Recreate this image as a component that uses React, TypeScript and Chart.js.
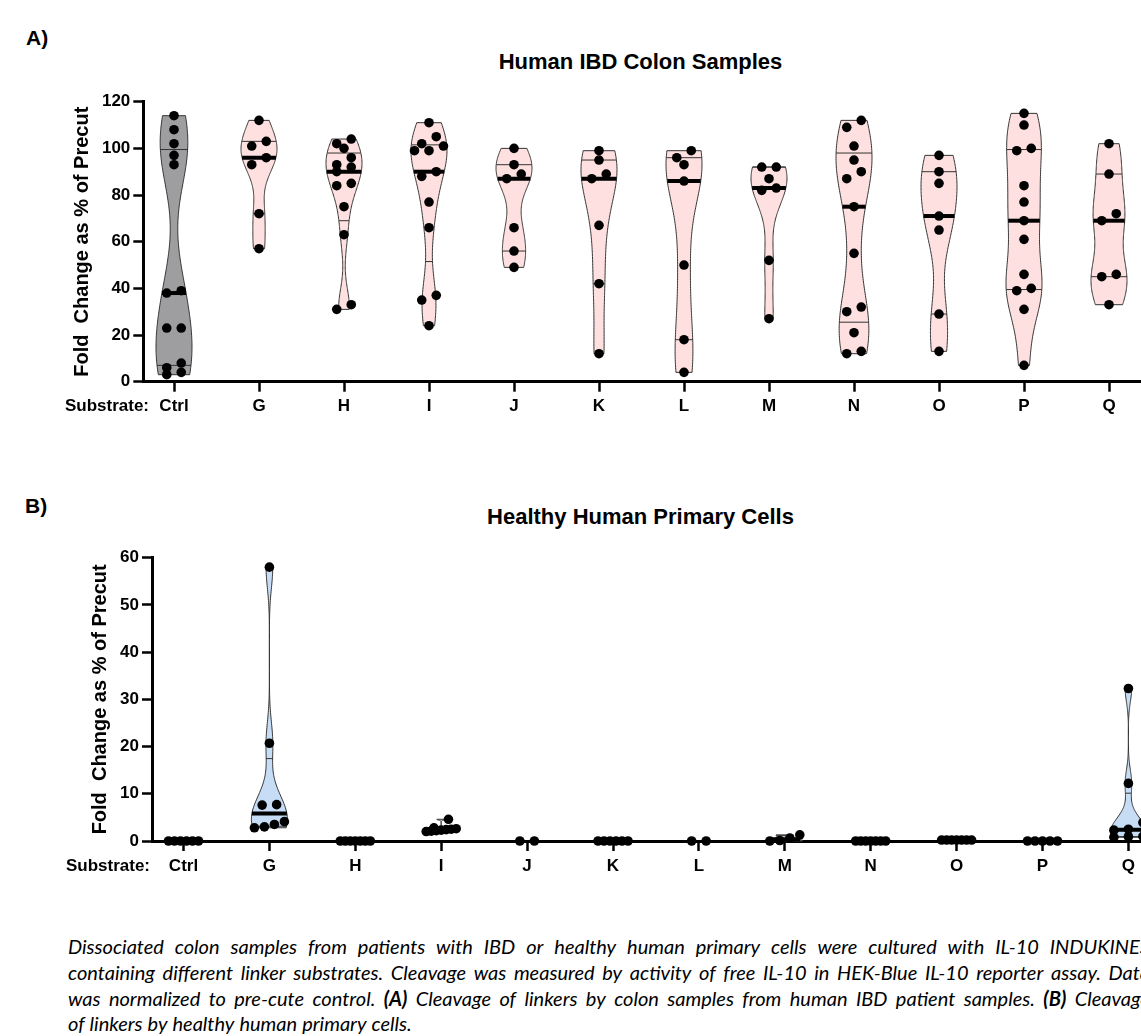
import React, { useEffect, useRef } from "react";
import { Chart, registerables } from "chart.js";

Chart.register(...registerables);

const FONT = "'Liberation Sans', Arial, Helvetica, sans-serif";

const categories = ["Ctrl", "G", "H", "I", "J", "K", "L", "M", "N", "O", "P", "Q"];

// Panel A: Human IBD colon samples (fold change as % of precut)
const ibdCtrl = [114, 108, 102, 97, 93, 39, 38, 23, 23, 8, 6, 4, 3];
const ibdG = [112, 103, 101, 96, 93, 72, 57];
const ibdH = [104, 102, 100, 96, 93, 92, 90, 85, 84, 75, 63, 33, 31];
const ibdI = [111, 105, 102, 101, 99, 99, 90, 88, 77, 66, 37, 35, 24];
const ibdJ = [100, 93, 89, 87, 66, 56, 49];
const ibdK = [99, 95, 89, 87, 67, 42, 12];
const ibdL = [99, 96, 93, 86, 50, 18, 4];
const ibdM = [92, 92, 87, 83, 82, 52, 27];
const ibdN = [112, 109, 101, 95, 90, 87, 75, 55, 32, 30, 21, 13, 12];
const ibdO = [97, 90, 85, 71, 65, 29, 13];
const ibdP = [115, 110, 100, 99, 84, 77, 69, 61, 46, 40, 39, 31, 7];
const ibdQ = [102, 89, 72, 69, 46, 45, 33];

// Panel B: Healthy human primary cells
const hpcCtrl = [0, 0, 0, 0, 0, 0];
const hpcG = [58, 20.7, 7.7, 7.6, 4.1, 3.5, 3.0, 2.8];
const hpcH = [0, 0, 0, 0, 0, 0, 0];
const hpcI = [4.6, 2.8, 2.6, 2.5, 2.4, 2.3, 2.2, 2.1, 2.0];
const hpcJ = [0, 0];
const hpcK = [0, 0, 0, 0, 0, 0];
const hpcL = [0, 0];
const hpcM = [1.3, 0.6, 0.1, 0.0];
const hpcN = [0, 0, 0, 0, 0, 0, 0];
const hpcO = [0.2, 0.2, 0.2, 0.2, 0.2, 0.2, 0.2];
const hpcP = [0, 0, 0, 0, 0];
const hpcQ = [32.3, 12.2, 3.9, 2.5, 2.3, 1.0, 0.9, 0.8];

const ibdGroups = [ibdCtrl, ibdG, ibdH, ibdI, ibdJ, ibdK, ibdL, ibdM, ibdN, ibdO, ibdP, ibdQ];
const hpcGroups = [hpcCtrl, hpcG, hpcH, hpcI, hpcJ, hpcK, hpcL, hpcM, hpcN, hpcO, hpcP, hpcQ];

const yTicksA = [0, 20, 40, 60, 80, 100, 120];
const yTicksB = [0, 10, 20, 30, 40, 50, 60];

const titleA = "Human IBD Colon Samples";
const titleB = "Healthy Human Primary Cells";
const yTitle = "Fold  Change as % of Precut";
const xLead = "Substrate:";

const captionLines = [
  "Dissociated colon samples from patients with IBD or healthy human primary cells were cultured with IL-10 INDUKINES",
  "containing different linker substrates. Cleavage was measured by activity of free IL-10 in HEK-Blue IL-10 reporter assay. Data",
  "was normalized to pre-cute control. (A) Cleavage of linkers by colon samples from human IBD patient samples. (B) Cleavage",
  "of linkers by healthy human primary cells.",
];
const boldTokens = ["(A)", "(B)"];

const GRAY = "#9e9ea1";
const PINK = "#fde0df";
const BLUE = "#c7ddf5";

function quantile(sorted: number[], p: number) {
  const n = sorted.length;
  const pos = (n + 1) * p;
  if (pos <= 1) return sorted[0];
  if (pos >= n) return sorted[n - 1];
  const lo = Math.floor(pos);
  const f = pos - lo;
  return sorted[lo - 1] + f * (sorted[lo] - sorted[lo - 1]);
}

function bandwidth(vals: number[]) {
  const n = vals.length;
  const mean = vals.reduce((a, b) => a + b, 0) / n;
  const sd = Math.sqrt(vals.reduce((a, b) => a + (b - mean) * (b - mean), 0) / Math.max(1, n - 1));
  const s = [...vals].sort((a, b) => a - b);
  const iqr = quantile(s, 0.75) - quantile(s, 0.25);
  let sig = Math.min(sd, iqr / 1.34);
  if (!(sig > 0)) sig = sd;
  return 0.7 * 0.9 * sig * Math.pow(n, -0.2);
}

function density(vals: number[], h: number, v: number) {
  let d = 0;
  for (const x of vals) {
    const z = (v - x) / h;
    d += Math.exp(-0.5 * z * z);
  }
  return d;
}

const violinPlugin = {
  id: "violins",
  beforeDatasetsDraw(chart: any, _args: any, opts: any) {
    const { ctx } = chart;
    const xs = chart.scales.x;
    const ys = chart.scales.y;
    const groups: number[][] = opts.groups;
    const half: number = opts.halfWidth;
    ctx.save();
    groups.forEach((vals, i) => {
      const s = [...vals].sort((a, b) => a - b);
      const lo = s[0];
      const hi = s[s.length - 1];
      if (hi - lo < 1e-6) return;
      const h = bandwidth(s);
      const N = 140;
      const vs: number[] = [];
      const ds: number[] = [];
      for (let k = 0; k <= N; k++) {
        const v = lo + ((hi - lo) * k) / N;
        vs.push(v);
        ds.push(density(s, h, v));
      }
      const dmax = Math.max(...ds);
      const w = (v: number) => (half * density(s, h, v)) / dmax;
      const cx = xs.getPixelForValue(i);
      ctx.beginPath();
      for (let k = 0; k <= N; k++) {
        const px = cx - (half * ds[k]) / dmax;
        const py = ys.getPixelForValue(vs[k]);
        if (k === 0) ctx.moveTo(px, py);
        else ctx.lineTo(px, py);
      }
      for (let k = N; k >= 0; k--) {
        ctx.lineTo(cx + (half * ds[k]) / dmax, ys.getPixelForValue(vs[k]));
      }
      ctx.closePath();
      ctx.fillStyle = opts.fills[i];
      ctx.fill();
      ctx.lineWidth = 1;
      ctx.strokeStyle = "#333";
      ctx.stroke();

      const q1 = quantile(s, 0.25);
      const q3 = quantile(s, 0.75);
      const med = quantile(s, 0.5);
      ctx.strokeStyle = "#333";
      ctx.lineWidth = 1;
      [q1, q3].forEach((q) => {
        const py = ys.getPixelForValue(q);
        const ww = w(q);
        ctx.beginPath();
        ctx.moveTo(cx - ww, py);
        ctx.lineTo(cx + ww, py);
        ctx.stroke();
      });
      const pm = ys.getPixelForValue(med);
      const wm = w(med);
      ctx.strokeStyle = "#000";
      ctx.lineWidth = 4;
      ctx.beginPath();
      ctx.moveTo(cx - wm, pm);
      ctx.lineTo(cx + wm, pm);
      ctx.stroke();
    });
    ctx.restore();
  },
  afterDraw(chart: any, _args: any, opts: any) {
    const { ctx } = chart;
    const xs = chart.scales.x;
    const yMid = xs.top + 10 + 4.8 + (17 * 1.2) / 2;
    ctx.save();
    ctx.font = `bold 17px ${FONT}`;
    ctx.fillStyle = "#000";
    ctx.textAlign = "right";
    ctx.textBaseline = "middle";
    ctx.fillText(xLead, opts.labelRight, yMid);
    ctx.restore();
  },
};

function swarmPoints(chart: any, groups: number[][]) {
  const xs = chart.scales.x;
  const ys = chart.scales.y;
  const pxX = Math.abs(xs.getPixelForValue(1) - xs.getPixelForValue(0));
  const pts: { x: number; y: number }[] = [];
  groups.forEach((vals, i) => {
    const desc = [...vals].sort((a, b) => b - a);
    const rows: number[][] = [];
    let row: number[] = [];
    desc.forEach((v) => {
      if (row.length && Math.abs(ys.getPixelForValue(row[0]) - ys.getPixelForValue(v)) >= 9) {
        rows.push(row);
        row = [];
      }
      row.push(v);
    });
    if (row.length) rows.push(row);
    rows.forEach((r) => {
      const asc = [...r].sort((a, b) => a - b);
      const k = asc.length;
      const sp = k > 1 ? Math.min(14.5, 30 / (k - 1)) : 0;
      asc.forEach((v, j) => pts.push({ x: i + ((j - (k - 1) / 2) * sp) / pxX, y: v }));
    });
  });
  return pts;
}

function buildChart(canvas: HTMLCanvasElement, cfg: any) {
  const axisFont = { family: FONT, size: 17, weight: "bold" as const };
  const grid = {
    drawOnChartArea: false,
    drawTicks: true,
    tickLength: 10,
    tickWidth: 2.5,
    tickColor: "#000",
  };
  const border = { display: true, color: "#000", width: 3 };
  const chart = new Chart(canvas, {
    type: "scatter",
    data: {
      datasets: [
        {
          data: cfg.groups.flatMap((vals: number[], i: number) => vals.map((v) => ({ x: i, y: v }))),
          pointRadius: 4.8,
          pointHoverRadius: 4.8,
          pointBackgroundColor: "#000",
          pointBorderWidth: 0,
          backgroundColor: "#000",
          borderColor: "#000",
          clip: false as any,
        },
      ],
    },
    options: {
      responsive: false,
      maintainAspectRatio: false,
      animation: false,
      events: [],
      layout: { padding: cfg.padding },
      plugins: {
        legend: { display: false },
        tooltip: { enabled: false },
        violins: { groups: cfg.groups, fills: cfg.fills, halfWidth: 18, labelRight: cfg.labelRight },
      } as any,
      scales: {
        x: {
          type: "linear",
          min: cfg.xMin,
          max: cfg.xMax,
          afterBuildTicks: (s: any) => {
            s.ticks = categories.map((_, i) => ({ value: i }));
          },
          ticks: {
            callback: (v: any) => categories[Math.round(v)] ?? "",
            font: axisFont,
            color: "#000",
            padding: 4.8,
            autoSkip: false,
            maxRotation: 0,
          },
          grid,
          border,
          afterFit: (s: any) => {
            s.height = 40;
          },
        },
        y: {
          type: "linear",
          min: cfg.yTicks[0],
          max: cfg.yTicks[cfg.yTicks.length - 1],
          afterBuildTicks: (s: any) => {
            s.ticks = cfg.yTicks.map((v: number) => ({ value: v }));
          },
          ticks: { font: axisFont, color: "#000", padding: 3, autoSkip: false },
          grid,
          border,
          title: {
            display: true,
            text: yTitle,
            color: "#000",
            font: { family: FONT, size: 20, weight: "bold" },
            padding: { top: cfg.titlePad, bottom: 0 },
          },
          afterFit: (s: any) => {
            s.width = 100;
          },
        },
      },
    },
    plugins: [violinPlugin as any],
  });
  chart.data.datasets[0].data = swarmPoints(chart, cfg.groups) as any;
  chart.update();
  return chart;
}

const abs = (o: any) => ({ position: "absolute" as const, ...o });

function CaptionLine({ text, justify }: { text: string; justify: boolean }) {
  const words = text.split(" ");
  return (
    <div
      style={{
        display: "flex",
        justifyContent: justify ? "space-between" : "flex-start",
        gap: justify ? 0 : "0.25em",
        whiteSpace: "nowrap",
        height: "25.7px",
      }}
    >
      {words.map((w, i) =>
        boldTokens.includes(w) ? (
          <b key={i}>{w}</b>
        ) : (
          <span key={i}>{w}</span>
        )
      )}
    </div>
  );
}

export default function App() {
  const refA = useRef<HTMLCanvasElement>(null);
  const refB = useRef<HTMLCanvasElement>(null);

  useEffect(() => {
    const a = buildChart(refA.current!, {
      groups: ibdGroups,
      fills: ibdGroups.map((_, i) => (i === 0 ? GRAY : PINK)),
      yTicks: yTicksA,
      xMin: -(174 - 143.3) / 85,
      xMax: (1160 - 174) / 85,
      padding: { left: 43.3, top: 21.7, right: 40, bottom: 8.3 },
      titlePad: 26.7,
      labelRight: 149,
    });
    const b = buildChart(refB.current!, {
      groups: hpcGroups,
      fills: hpcGroups.map(() => BLUE),
      yTicks: yTicksB,
      xMin: -(183.5 - 152) / 85.9,
      xMax: (1160 - 183.5) / 85.9,
      padding: { left: 52, top: 27.7, right: 40, bottom: 9 },
      titlePad: 36,
      labelRight: 150,
    });
    return () => {
      a.destroy();
      b.destroy();
    };
  }, []);

  const panelLabel = { fontFamily: FONT, fontWeight: "bold", fontSize: 21, lineHeight: "21px", color: "#000" };
  const titleStyle = {
    fontFamily: FONT,
    fontWeight: "bold",
    fontSize: 22,
    lineHeight: "22px",
    color: "#000",
    textAlign: "center" as const,
    width: 1000,
    left: 140.5,
  };

  return (
    <div style={abs({ left: 0, top: 0, width: 1141, height: 1036, overflow: "hidden", background: "#fff" })}>
      <div style={abs({ left: 26, top: 27.25, ...panelLabel })}>A)</div>
      <div style={abs({ top: 51.25, ...titleStyle })}>{titleA}</div>
      <canvas ref={refA} width={1200} height={350} style={abs({ left: 0, top: 80, width: 1200, height: 350 })} />

      <div style={abs({ left: 25, top: 494.75, ...panelLabel })}>B)</div>
      <div style={abs({ top: 506.25, ...titleStyle })}>{titleB}</div>
      <canvas ref={refB} width={1200} height={360} style={abs({ left: 0, top: 530, width: 1200, height: 360 })} />

      <div
        style={abs({
          left: 68,
          top: 934.3,
          width: 1082,
          fontFamily: "Lato, 'Open Sans', sans-serif",
          fontStyle: "italic",
          fontSize: 20,
          lineHeight: "25.7px",
          color: "#000",
        })}
      >
        {captionLines.map((t, i) => (
          <CaptionLine key={i} text={t} justify={i < captionLines.length - 1} />
        ))}
      </div>
    </div>
  );
}
